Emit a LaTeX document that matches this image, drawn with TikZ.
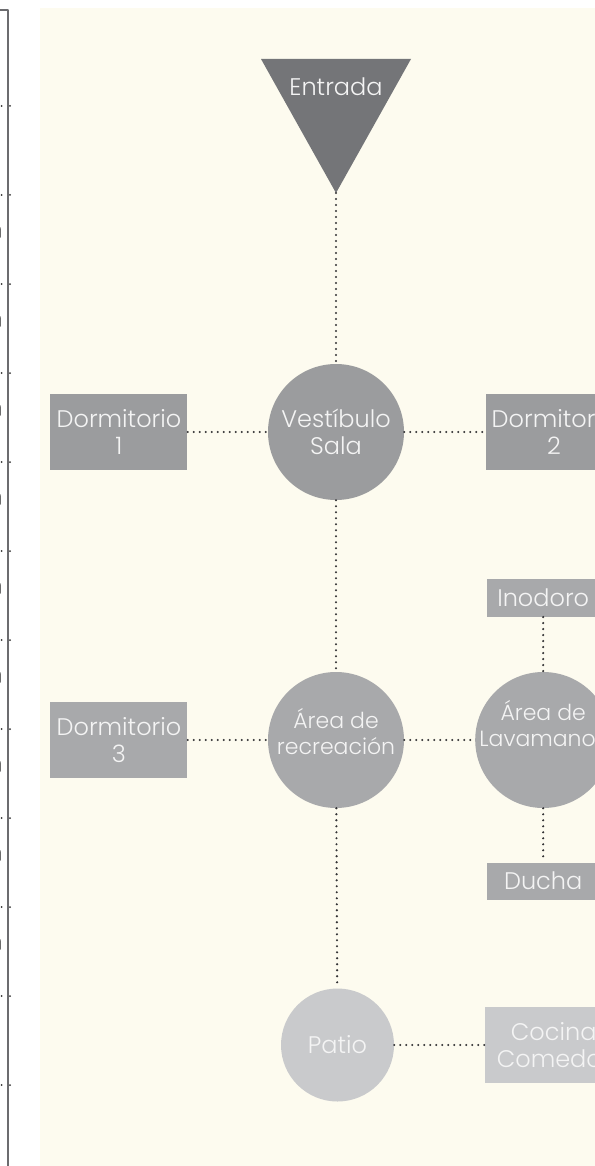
\documentclass[tikz,border=0pt]{standalone}
\usepackage{fontspec}
\setmainfont{Poppins Light}
\usetikzlibrary{positioning}
\definecolor{cream}{RGB}{253,251,239}
\definecolor{edgegray}{RGB}{108,108,111}
\definecolor{darktone}{RGB}{116,117,120}
\definecolor{midtone}{RGB}{155,156,158}
\definecolor{softtone}{RGB}{168,169,171}
\definecolor{paletone}{RGB}{201,202,204}
\definecolor{dotgray}{RGB}{50,50,52}
\definecolor{labelwhite}{RGB}{244,244,244}
\begin{document}
\begin{tikzpicture}[x=0.75pt, y=-0.75pt, line cap=round, line join=round,
  font=\fontsize{18}{20}\selectfont,
  room/.style={rectangle, fill=#1, text=labelwhite, align=center, inner sep=0pt, minimum width=102.75pt, minimum height=57pt},
  nook/.style={room=#1, minimum width=84pt, minimum height=28pt},
  hub/.style={circle, fill=#1, text=labelwhite, align=center, inner sep=0pt, minimum size=102pt},
  hubtext/.style={text=labelwhite, align=center, inner sep=0pt, font=\fontsize{16.5}{19.5}\selectfont},
  link/.style={dotgray, line width=1.8pt, dash pattern=on 0pt off 4.5pt}]
\useasboundingbox (0,0) rectangle (594,1166);
\fill[cream] (40,8) rectangle (600,1170);
\draw[edgegray, line width=1.7pt, line cap=butt] (-2,10) -- (8,10) -- (8,1170);
\foreach \y in {106,195,...,1085} \fill[black!80] (1.7,\y) circle (1) (10,\y) circle (1);
\foreach \y in {232,321,...,944} \node[anchor=east, inner sep=0pt, font=\sffamily\bfseries\fontsize{20}{20}\selectfont] (strip-\y) at (2.6,\y) {n};
\fill[darktone] (261,59) -- (411,59) -- (336,193) coordinate (entradaTip) -- cycle;
\node[text=labelwhite] (entrada) at (336,87) {Entrada};
\node[hub=midtone] (vestibulo) at (336,432) {Vestíbulo\\Sala};
\node[room=midtone, left=60pt of vestibulo] (dorm1) {Dormitorio\\1};
\node[room=midtone, right=60.75pt of vestibulo] (dorm2) {Dormitorio\\2};
\node[hub=softtone] (recreo) at (336,740) {};
\node[hubtext, yshift=6.5pt] (recreo-txt) at (recreo) {Área de\\recreación};
\node[room=softtone, left=60pt of recreo] (dorm3) {Dormitorio\\3};
\node[hub=softtone, right=53pt of recreo] (lavamanos) {};
\node[hubtext, yshift=12pt] (lavamanos-txt) at (lavamanos) {Área de\\Lavamanos};
\node[nook=softtone, above=41pt of lavamanos] (inodoro) {Inodoro};
\node[nook=softtone, below=40.5pt of lavamanos] (ducha) {Ducha};
\node[hub=paletone, minimum size=84.75pt] (patio) at (337.5,1045) {Patio};
\node[room=paletone, right=68pt of patio] (cocina) {Cocina\\Comedor};
\foreach \a/\b in {entradaTip/vestibulo, dorm1/vestibulo, vestibulo/dorm2, vestibulo/recreo, dorm3/recreo, recreo/lavamanos, inodoro/lavamanos, lavamanos/ducha, recreo/patio, patio/cocina}
  \draw[link] (\a) -- (\b);
\end{tikzpicture}
\end{document}
